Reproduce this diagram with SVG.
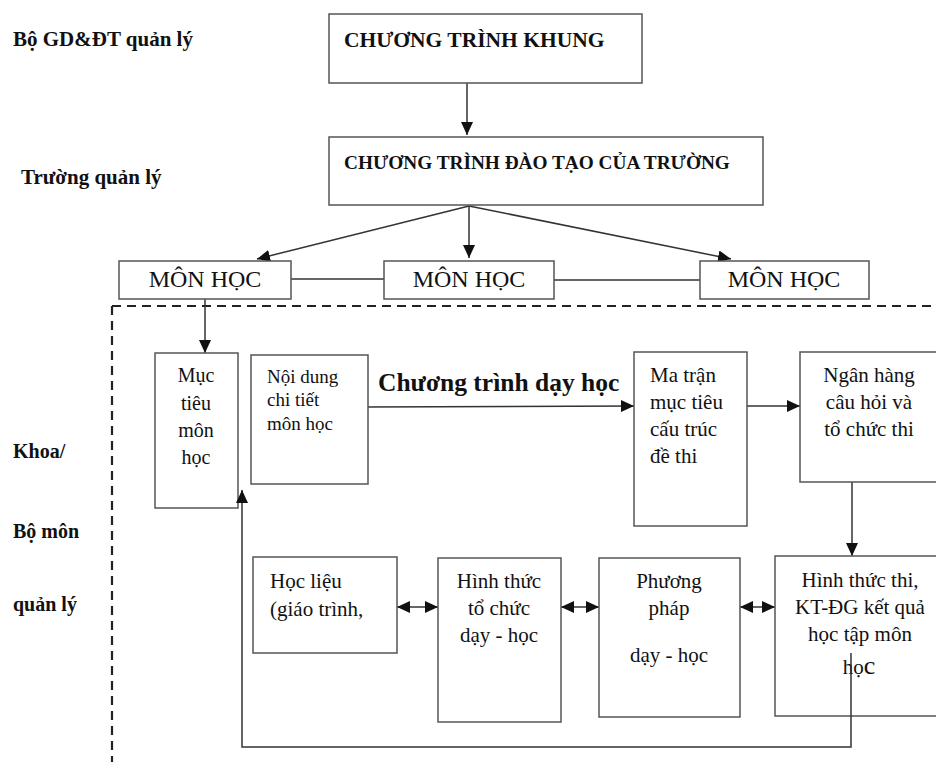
<svg xmlns="http://www.w3.org/2000/svg" width="936" height="762" viewBox="0 0 936 762">
<style>
.box{fill:#fff;stroke:#555;stroke-width:1.5}
.ln{fill:none;stroke:#333;stroke-width:1.5}
.dash{fill:none;stroke:#222;stroke-width:2.2;stroke-dasharray:9 6}
text{font-family:"Liberation Serif","Times New Roman",serif;fill:#111}
.b{font-weight:bold}
.c{text-anchor:middle}
</style>
<defs>
<marker id="ah" markerUnits="userSpaceOnUse" markerWidth="14" markerHeight="12" refX="13" refY="6" orient="auto-start-reverse">
<path d="M0,0 L13,6 L0,12 z" fill="#111"/>
</marker>
</defs>
<rect width="936" height="762" fill="#fff"/>

<g id="labels">
<text class="b" x="13" y="46" font-size="21">Bộ GD&amp;ĐT quản lý</text>
<text class="b" x="21" y="184" font-size="21">Trường quản lý</text>
<text class="b" x="13" y="458" font-size="20">Khoa/</text>
<text class="b" x="13" y="538" font-size="20">Bộ môn</text>
<text class="b" x="13" y="611" font-size="20">quản lý</text>
</g>

<g id="frame">
<path class="dash" d="M112,306 H936 M112,306 V762"/>
</g>

<g id="connectors">
<line class="ln" x1="467" y1="83" x2="467" y2="135" marker-end="url(#ah)"/>
<line class="ln" x1="469" y1="206" x2="257" y2="259" marker-end="url(#ah)"/>
<line class="ln" x1="469" y1="206" x2="469" y2="258" marker-end="url(#ah)"/>
<line class="ln" x1="469" y1="206" x2="731" y2="259" marker-end="url(#ah)"/>
<line class="ln" x1="291" y1="279" x2="384" y2="279"/>
<line class="ln" x1="554" y1="280" x2="700" y2="280"/>
<line class="ln" x1="205" y1="299" x2="205" y2="353" marker-end="url(#ah)"/>
<line class="ln" x1="363" y1="407" x2="634" y2="406" marker-end="url(#ah)"/>
<line class="ln" x1="747" y1="406" x2="800" y2="406" marker-end="url(#ah)"/>
<line class="ln" x1="852" y1="482" x2="852" y2="556" marker-end="url(#ah)"/>
<line class="ln" x1="397" y1="607" x2="438" y2="607" marker-start="url(#ah)" marker-end="url(#ah)"/>
<line class="ln" x1="561" y1="607" x2="599" y2="607" marker-start="url(#ah)" marker-end="url(#ah)"/>
<line class="ln" x1="740" y1="607" x2="775" y2="607" marker-start="url(#ah)" marker-end="url(#ah)"/>
</g>

<g id="khung">
<rect class="box" x="329" y="14" width="313" height="69"/>
<text class="b" x="344" y="47" font-size="21.5">CHƯƠNG TRÌNH KHUNG</text>
</g>

<g id="daotao">
<rect class="box" x="329" y="137" width="434" height="68"/>
<text class="b" x="344" y="169" font-size="19.3">CHƯƠNG TRÌNH ĐÀO TẠO CỦA TRƯỜNG</text>
</g>

<g id="monhoc1">
<rect class="box" x="119" y="261" width="172" height="38"/>
<text class="c" x="205" y="287" font-size="24">MÔN HỌC</text>
</g>
<g id="monhoc2">
<rect class="box" x="384" y="261" width="170" height="38"/>
<text class="c" x="469" y="287" font-size="24">MÔN HỌC</text>
</g>
<g id="monhoc3">
<rect class="box" x="700" y="261" width="169" height="38"/>
<text class="c" x="784" y="287" font-size="24">MÔN HỌC</text>
</g>

<g id="muctieu">
<rect class="box" x="155" y="353" width="83" height="155"/>
<text class="c" x="196" y="382" font-size="20">Mục</text>
<text class="c" x="196" y="410" font-size="20">tiêu</text>
<text class="c" x="196" y="437" font-size="20">môn</text>
<text class="c" x="196" y="464" font-size="20">học</text>
</g>

<g id="noidung">
<rect class="box" x="251" y="355" width="117" height="129"/>
<text x="267" y="383" font-size="19">Nội dung</text>
<text x="267" y="406" font-size="19">chi tiết</text>
<text x="267" y="430" font-size="19">môn học</text>
</g>

<g id="ctdh">
<text class="b" x="378" y="391" font-size="25.5">Chương trình dạy học</text>
</g>

<g id="matran">
<rect class="box" x="634" y="352" width="113" height="174"/>
<text x="650" y="382" font-size="21">Ma trận</text>
<text x="650" y="409" font-size="21">mục tiêu</text>
<text x="650" y="436" font-size="21">cấu trúc</text>
<text x="650" y="463" font-size="21">đề thi</text>
</g>

<g id="nganhang">
<rect class="box" x="800" y="352" width="140" height="130"/>
<text class="c" x="869" y="382" font-size="21">Ngân hàng</text>
<text class="c" x="869" y="409" font-size="21">câu hỏi và</text>
<text class="c" x="869" y="436" font-size="21">tổ chức thi</text>
</g>

<g id="hoclieu">
<rect class="box" x="253" y="557" width="144" height="96"/>
<text x="270" y="588" font-size="21">Học liệu</text>
<text x="270" y="616" font-size="21">(giáo trình,</text>
</g>

<g id="hinhthuctochuc">
<rect class="box" x="438" y="558" width="123" height="164"/>
<text class="c" x="499" y="588" font-size="21">Hình thức</text>
<text class="c" x="499" y="615" font-size="21">tổ chức</text>
<text class="c" x="499" y="642" font-size="21">dạy - học</text>
</g>

<g id="phuongphap">
<rect class="box" x="599" y="558" width="141" height="159"/>
<text class="c" x="669" y="588" font-size="21">Phương</text>
<text class="c" x="669" y="615" font-size="21">pháp</text>
<text class="c" x="669" y="662" font-size="21">dạy - học</text>
</g>

<g id="hinhthucthi">
<rect class="box" x="775" y="556" width="165" height="160"/>
<text class="c" x="860" y="587" font-size="21">Hình thức thi,</text>
<text class="c" x="860" y="614" font-size="21">KT-ĐG kết quả</text>
<text class="c" x="860" y="641" font-size="21">học tập môn</text>
<text class="c" x="859" y="674" font-size="21">họ<tspan font-size="26">c</tspan></text>
</g>

<g id="feedback">
<polyline class="ln" points="851,653 851,747 242,747 242,490" marker-end="url(#ah)"/>
</g>
</svg>
